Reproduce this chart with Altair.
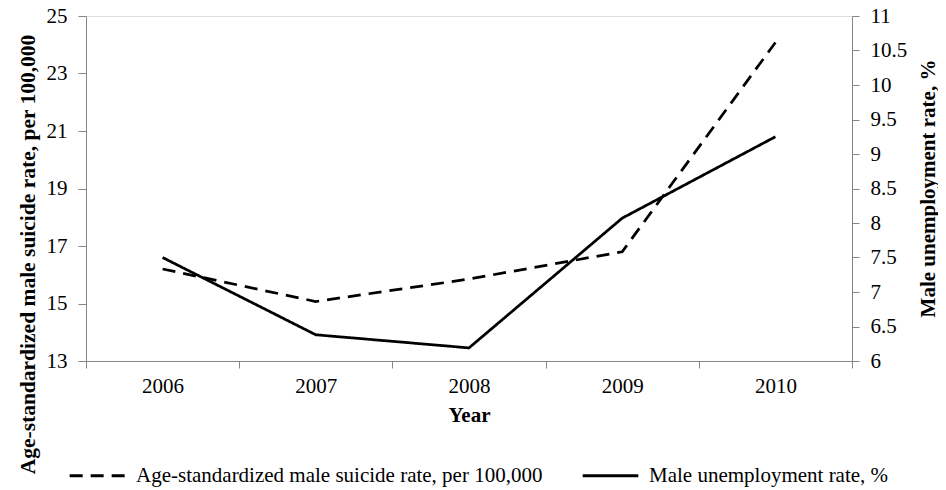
import altair as alt
import pandas as pd

years = ["2006", "2007", "2008", "2009", "2010"]
suicide_rate = [16.2, 15.07, 15.85, 16.8, 24.08]
unemployment = [7.5, 6.38, 6.19, 8.07, 9.25]

S1 = "Age-standardized male suicide rate, per 100,000"
S2 = "Male unemployment rate, %"

df1 = pd.DataFrame({"year": years, "value": suicide_rate, "series": S1})
df2 = pd.DataFrame({"year": years, "value": unemployment, "series": S2})

FONT = "Liberation Serif"
GRAY = "#868686"

xenc = alt.X(
    "year:O",
    bandPosition=0.5,
    scale=alt.Scale(type="band", paddingInner=0, paddingOuter=0),
    axis=alt.Axis(
        title="Year", tickBand="extent", labelAngle=0, domainColor=GRAY, tickColor=GRAY,
        tickSize=7, labelPadding=18, labelBaseline="middle", labelFontSize=21, labelFont=FONT,
        labelColor="black", titleFont=FONT, titleFontSize=21, titleFontWeight="bold",
        titleColor="black", titleBaseline="middle", titleY=54, grid=False,
    ),
)

dash = alt.StrokeDash(
    "series:N",
    scale=alt.Scale(domain=[S1, S2], range=[[13, 8], [1, 0]]),
    legend=alt.Legend(
        title=None, orient="none", direction="horizontal", legendX=-18, legendY=430,
        symbolType="stroke", symbolSize=3100, symbolStrokeWidth=3, symbolStrokeColor="black",
        labelFont=FONT, labelFontSize=21, labelColor="black", labelLimit=600,
        labelOffset=9, columnPadding=33, padding=0,
    ),
)

left = alt.Chart(df1).mark_line(color="black", strokeWidth=2.75).encode(
    x=xenc,
    y=alt.Y(
        "value:Q",
        scale=alt.Scale(domain=[13, 25], nice=False, zero=False),
        axis=alt.Axis(
            title=S1, values=[13, 15, 17, 19, 21, 23, 25], orient="left", grid=False,
            domainColor=GRAY, tickColor=GRAY, tickSize=8, labelPadding=11,
            labelFont=FONT, labelFontSize=21, labelColor="black",
            titleFont=FONT, titleFontSize=21.5, titleFontWeight="bold", titleColor="black",
            titleAngle=270, titleBaseline="middle", titleX=-58, titleY=238,
        ),
    ),
    strokeDash=dash,
)

right = alt.Chart(df2).mark_line(color="black", strokeWidth=2.75).encode(
    x=xenc,
    y=alt.Y(
        "value:Q",
        scale=alt.Scale(domain=[6, 11], nice=False, zero=False),
        axis=alt.Axis(
            title=S2, values=[6, 6.5, 7, 7.5, 8, 8.5, 9, 9.5, 10, 10.5, 11], orient="right",
            format=".1~f",
            grid=False, domainColor=GRAY, tickColor=GRAY, tickSize=7, labelPadding=11,
            labelFont=FONT, labelFontSize=21, labelColor="black",
            titleFont=FONT, titleFontSize=21, titleFontWeight="bold", titleColor="black",
            titleAngle=270, titleBaseline="middle", titleX=76, titleY=172,
        ),
    ),
    strokeDash=dash,
)

chart = (
    alt.layer(left, right)
    .resolve_scale(y="independent")
    .properties(
        width=766, height=345,
        autosize=alt.AutoSizeParams(type="none"),
        padding={"left": 78, "top": 8, "right": 86, "bottom": 128},
    )
    .configure_view(stroke=None)
    .configure(background="white")
)

chart.save("out.html", embed_options={"renderer": "svg", "actions": False})
